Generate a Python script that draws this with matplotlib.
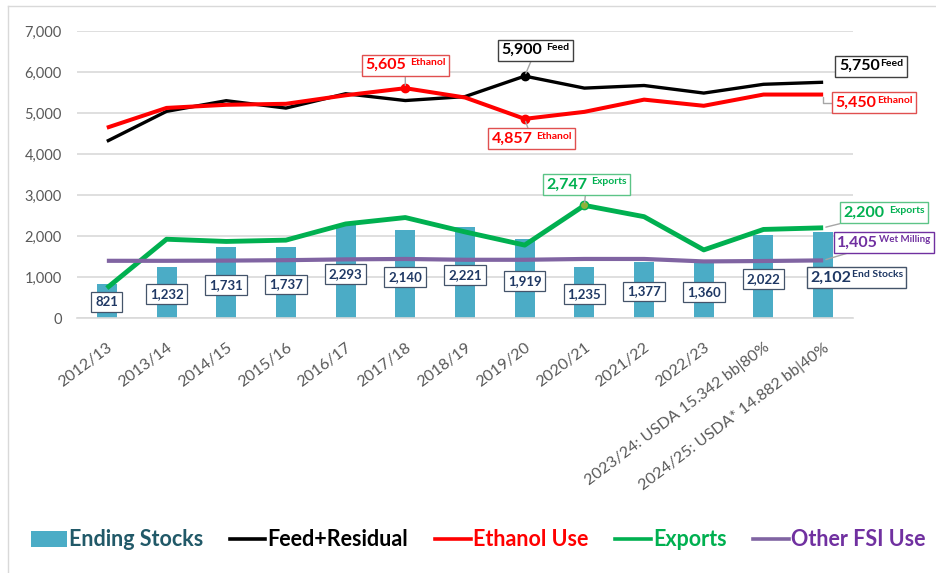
import matplotlib
matplotlib.use('Agg')
import matplotlib.pyplot as plt
import numpy as np
from matplotlib.offsetbox import TextArea, HPacker, AnnotationBbox
from matplotlib.lines import Line2D
from matplotlib.patches import Patch

plt.rcParams['font.family'] = ['Lato', 'DejaVu Sans']

# ---------------- data ----------------
years = ["2012/13", "2013/14", "2014/15", "2015/16", "2016/17", "2017/18",
         "2018/19", "2019/20", "2020/21", "2021/22", "2022/23",
         "2023/24: USDA 15.342 bb|80%", "2024/25: USDA* 14.882 bb|40%"]
ending_stocks = [821, 1232, 1731, 1737, 2293, 2140, 2221, 1919, 1235, 1377, 1360, 2022, 2102]
feed_residual = [4309, 5040, 5300, 5120, 5470, 5304, 5400, 5900, 5607, 5671, 5486, 5700, 5750]
ethanol_use = [4641, 5124, 5200, 5224, 5432, 5605, 5378, 4857, 5028, 5326, 5176, 5450, 5450]
exports = [730, 1921, 1867, 1899, 2294, 2450, 2100, 1778, 2747, 2471, 1661, 2160, 2200]
other_fsi = [1395, 1395, 1400, 1410, 1430, 1440, 1420, 1420, 1440, 1440, 1380, 1390, 1405]
yticks = [0, 1000, 2000, 3000, 4000, 5000, 6000, 7000]

C_BAR = '#4BACC6'
C_FEED = '#000000'
C_ETH = '#FF0000'
C_EXP = '#00B050'
C_FSI = '#8064A2'
C_FSI_TXT = '#7030A0'
C_STK_TXT = '#215968'
C_NAVY = '#1F3864'

fig = plt.figure(figsize=(9.36, 5.73), dpi=100)
ax = fig.add_axes([77/936, 1-318/573, (853-77)/936, (318-31)/573])

x = np.arange(len(years))
ax.bar(x, ending_stocks, width=0.335, color=C_BAR, zorder=2)
ax.plot(x, feed_residual, color=C_FEED, lw=2.4, zorder=3, solid_capstyle='butt')
ax.plot(x, ethanol_use, color=C_ETH, lw=2.9, zorder=3.1, solid_capstyle='butt')
ax.plot(x, exports, color=C_EXP, lw=3.5, zorder=3.2, solid_capstyle='butt')
ax.plot(x, other_fsi, color=C_FSI, lw=3.0, zorder=3.3, solid_capstyle='butt')

# markers at highlighted points
ax.plot(x[5], ethanol_use[5], 'o', color=C_ETH, ms=6, zorder=4)
ax.plot(x[7], ethanol_use[7], 'o', color=C_ETH, ms=6, zorder=4)
ax.plot(x[7], feed_residual[7], 'o', color=C_FEED, ms=6, zorder=4)
ax.plot(x[8], exports[8], 'o', color='#8DB33A', mec=C_EXP, ms=6, zorder=4)

ax.set_xlim(-0.5, len(years) - 0.5)
ax.set_ylim(0, 7000)
ax.set_yticks(yticks)
ax.set_yticklabels([f"{v:,}" for v in yticks], fontsize=10.5, color='#595959')
ax.set_xticks(x)
ax.set_xticklabels(years, rotation=37, ha='right', rotation_mode='anchor',
                   fontsize=11.5, color='#595959')
ax.tick_params(axis='both', length=0)
ax.tick_params(axis='y', pad=11)
ax.tick_params(axis='x', pad=16)
ax.yaxis.grid(True, color='#D9D9D9', lw=1.2)
ax.set_axisbelow(True)
for s in ['top', 'right', 'left']:
    ax.spines[s].set_visible(False)
ax.spines['bottom'].set_color('#D9D9D9')
ax.spines['bottom'].set_linewidth(1.2)

# bar value boxes
for i in range(len(years) - 1):
    v = ending_stocks[i]
    ax.text(x[i], v * 0.47, f"{v:,}", ha='center', va='center', fontsize=9.5,
            fontweight='bold', color=C_NAVY, zorder=5,
            bbox=dict(boxstyle='square,pad=0.3', fc='white', ec='#44546A', lw=0.9))


def callout(xi, yv, big, small, color, edge, offset, align=(0.5, 0.5),
            conn=None, sep=3, big_size=11.5, small_size=7.5, txtcolor=None):
    tc = txtcolor or color
    t1 = TextArea(big, textprops=dict(color=tc, fontsize=big_size, fontweight='bold'))
    t2 = TextArea(small, textprops=dict(color=tc, fontsize=small_size, fontweight='bold'))
    pack = HPacker(children=[t1, t2], align='top', pad=0, sep=sep)
    arrow = None
    if conn is not None:
        arrow = dict(arrowstyle='-', color='#A6A6A6', lw=1, connectionstyle=conn,
                     shrinkA=0, shrinkB=2)
    ab = AnnotationBbox(pack, (xi, yv), xybox=offset, xycoords='data',
                        boxcoords='offset pixels', box_alignment=align,
                        frameon=True, pad=0.3,
                        bboxprops=dict(boxstyle='square,pad=0.25', fc='white', ec=edge, lw=1),
                        arrowprops=arrow, zorder=6, annotation_clip=False)
    ax.add_artist(ab)


callout(x[5], ethanol_use[5], f"{ethanol_use[5]:,}", "Ethanol", C_ETH, '#E05050', (0, 23), conn='arc3')
callout(x[7], feed_residual[7], f"{feed_residual[7]:,}", "Feed", C_FEED, '#404040', (11, 26), conn='arc3')
callout(x[7], ethanol_use[7], f"{ethanol_use[7]:,}", "Ethanol", C_ETH, '#E05050', (7, -20), conn='arc3')
callout(x[8], exports[8], f"{exports[8]:,}", "Exports", C_EXP, '#5CC487', (2, 21), conn='arc3')
callout(x[12], feed_residual[12], f"{feed_residual[12]:,}", "Feed", C_FEED, '#404040', (48, 16), sep=0.5)
callout(x[12], ethanol_use[12], f"{ethanol_use[12]:,}", "Ethanol", C_ETH, '#E05050', (51, -8),
        conn='angle,angleA=0,angleB=90,rad=0', sep=0.5)
callout(x[12], exports[12], f"{exports[12]:,}", "Exports", C_EXP, '#5CC487', (61, 15), conn='arc3')
callout(x[12], other_fsi[12], f"{other_fsi[12]:,}", "Wet Milling", C_FSI_TXT, C_FSI_TXT, (14, 18),
        align=(0, 0.5), conn='arc3', sep=0.5, small_size=7)
callout(x[12], ending_stocks[12] * 0.47, f"{ending_stocks[12]:,}", "End Stocks", C_NAVY, '#44546A',
        (-13, 0), align=(0, 0.5), sep=0.5)

# figure frame lines
fig.add_artist(Line2D([8/936, 8/936], [0, 1-6/573], transform=fig.transFigure, color='#D9D9D9', lw=1))
fig.add_artist(Line2D([8/936, 1], [1-6/573, 1-6/573], transform=fig.transFigure, color='#D9D9D9', lw=1))

# legend
handles = [Patch(fc=C_BAR, ec='none'),
           Line2D([], [], color=C_FEED, lw=2.6),
           Line2D([], [], color=C_ETH, lw=2.6),
           Line2D([], [], color=C_EXP, lw=2.6),
           Line2D([], [], color=C_FSI, lw=2.6)]
labels = ["Ending Stocks", "Feed+Residual", "Ethanol Use", "Exports", "Other FSI Use"]
leg = fig.legend(handles, labels, loc='center', bbox_to_anchor=(0.511, 1-540/573), ncol=5,
                 frameon=False, prop={'weight': 'bold', 'size': 15.5}, handlelength=1.65,
                 handletextpad=0.1, columnspacing=1.25)
for t, c in zip(leg.get_texts(), [C_STK_TXT, C_FEED, C_ETH, C_EXP, C_FSI_TXT]):
    t.set_color(c)

fig.savefig('out.png', dpi=100)
